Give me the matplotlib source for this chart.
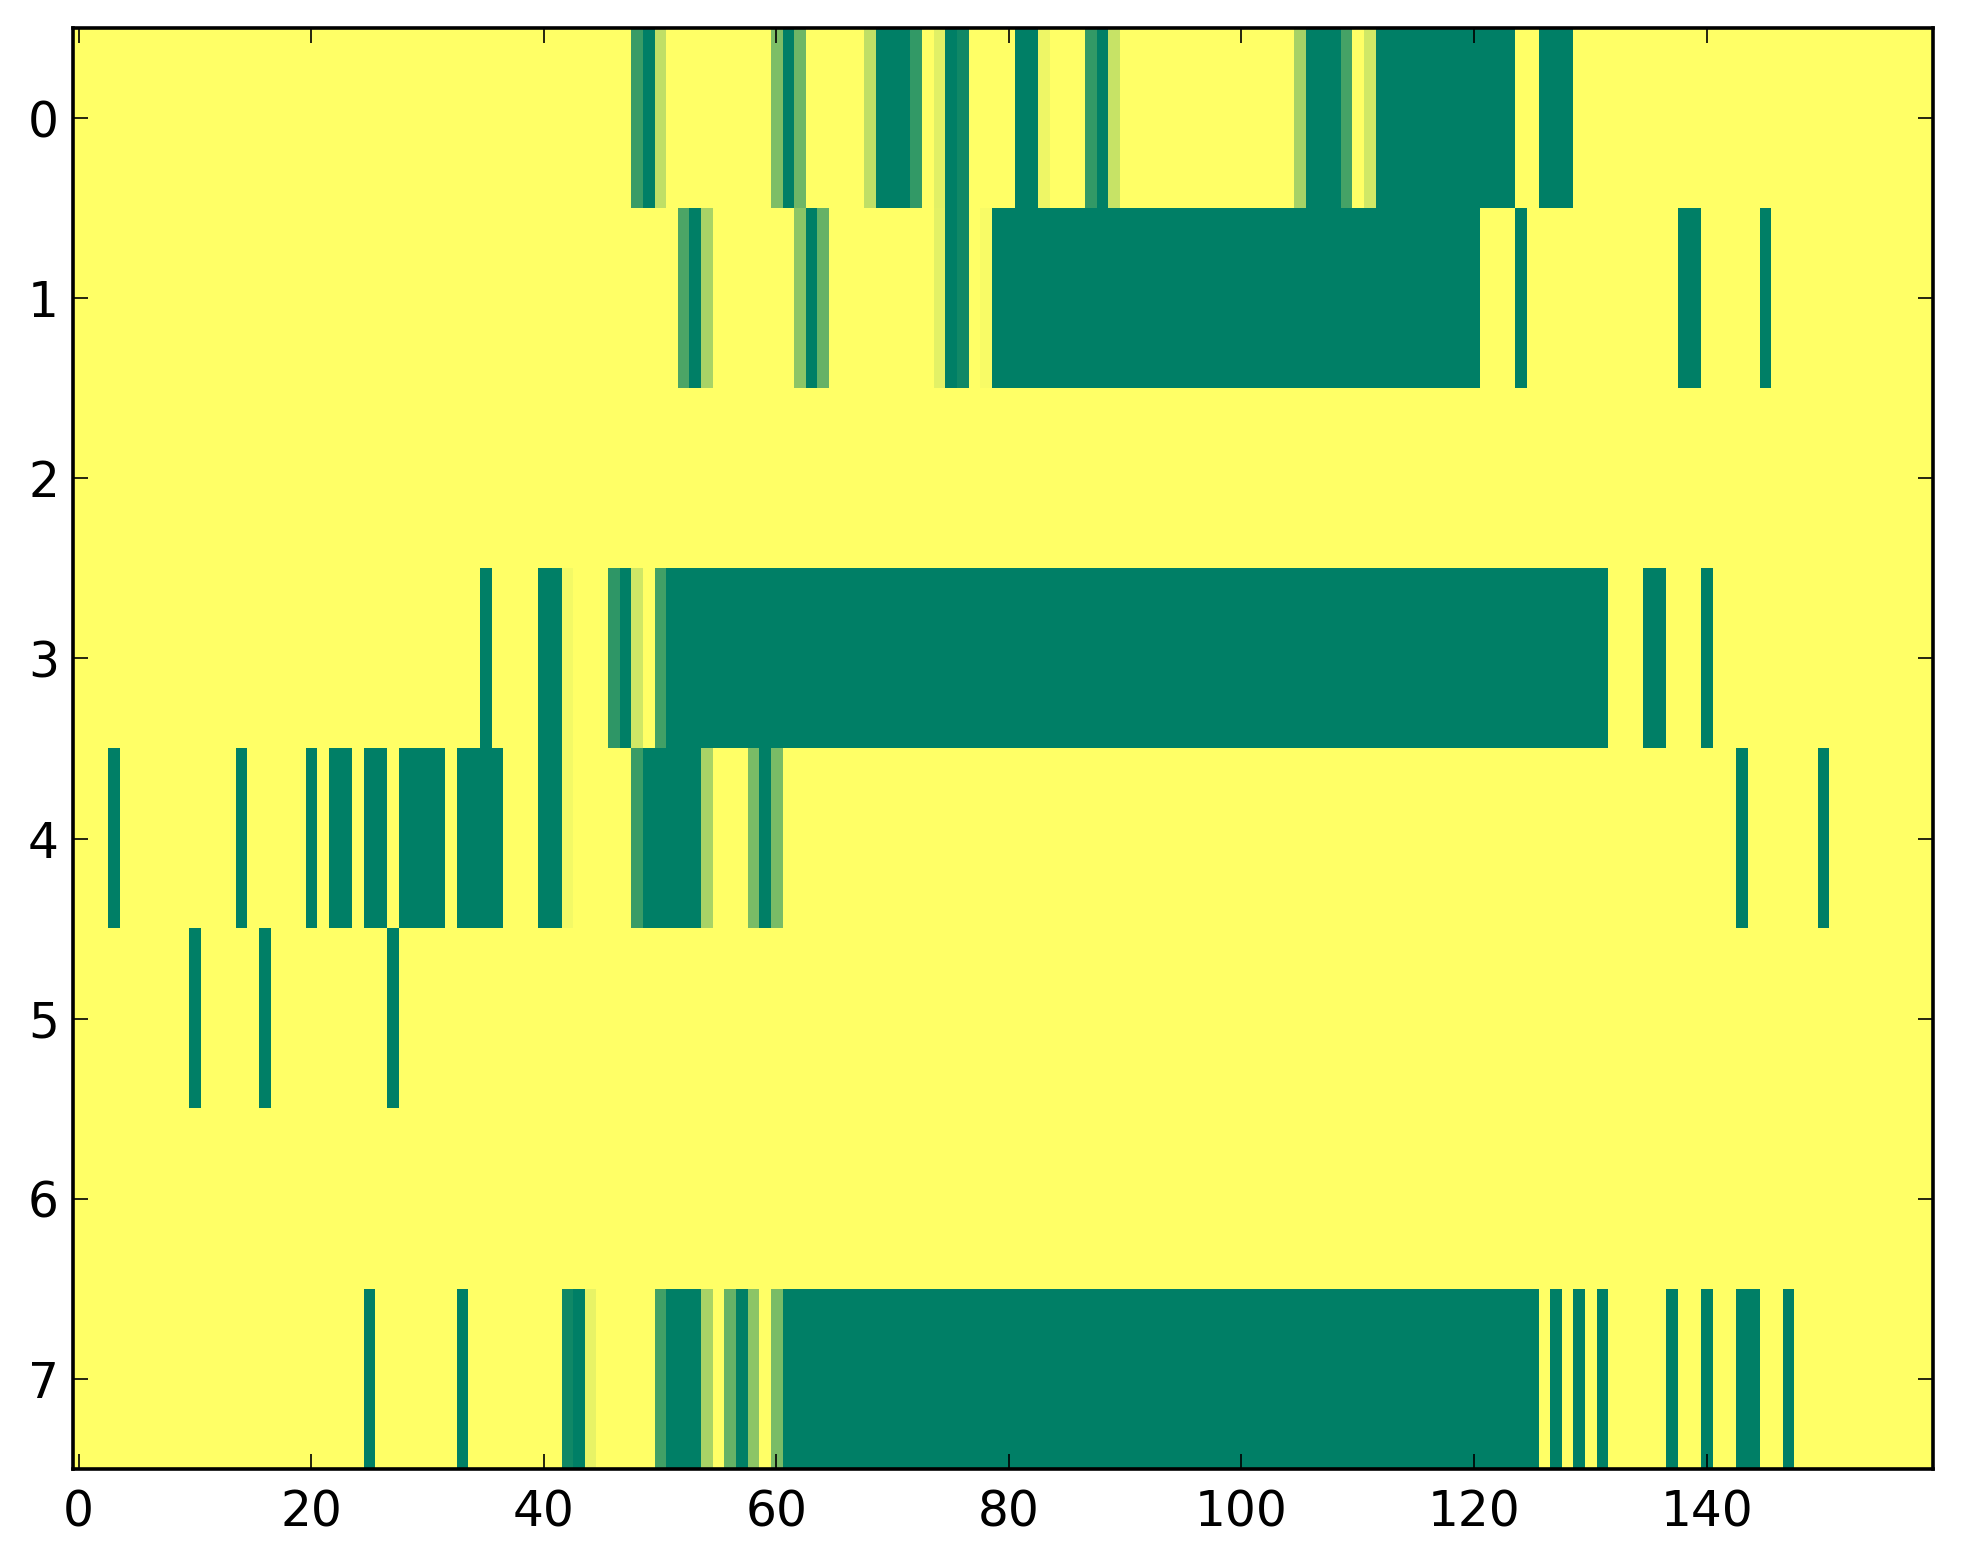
import numpy as np
import matplotlib
matplotlib.use('Agg')
import matplotlib.pyplot as plt

n_rows = 8
n_cols = 160

# columns that are fully "on" (value 1) in each row
row0_full = [49, 61, 69, 70, 71, 75, 81, 82, 88, 106, 107, 108] + list(range(112, 124)) + [126, 127, 128]
row1_full = [53, 63, 75] + list(range(79, 121)) + [124, 138, 139, 145]
row2_full = []
row3_full = [35, 40, 41, 47] + list(range(51, 132)) + [135, 136, 140]
row4_full = [3, 14, 20, 22, 23, 25, 26, 28, 29, 30, 31, 33, 34, 35, 36, 40, 41,
             49, 50, 51, 52, 53, 59, 143, 150]
row5_full = [10, 16, 27]
row6_full = []
row7_full = [25, 33, 43, 51, 52, 53, 57] + list(range(61, 126)) + [127, 129, 131, 137, 140, 143, 144, 147]

# columns with in-between values
row0_part = {48: 0.77, 50: 0.25, 60: 0.51, 62: 0.57, 68: 0.25, 72: 0.8, 74: 0.12,
             76: 0.93, 83: 0.07, 87: 0.8, 89: 0.22, 105: 0.35, 109: 0.73, 111: 0.18}
row1_part = {52: 0.7, 54: 0.34, 62: 0.45, 64: 0.6, 74: 0.11, 76: 0.93, 78: 0.03}
row2_part = {}
row3_part = {42: 0.05, 46: 0.82, 48: 0.19, 50: 0.74}
row4_part = {42: 0.05, 48: 0.77, 54: 0.34, 58: 0.52, 60: 0.52}
row5_part = {}
row6_part = {}
row7_part = {42: 0.93, 44: 0.09, 50: 0.74, 54: 0.34, 56: 0.6, 58: 0.45, 60: 0.52}

full_rows = [row0_full, row1_full, row2_full, row3_full, row4_full, row5_full, row6_full, row7_full]
part_rows = [row0_part, row1_part, row2_part, row3_part, row4_part, row5_part, row6_part, row7_part]

data = np.zeros((n_rows, n_cols))
for r in range(n_rows):
    for c in full_rows[r]:
        data[r, c] = 1.0
    for c, v in part_rows[r].items():
        data[r, c] = v

fig = plt.figure(figsize=(1963 / 200, 1564 / 200), dpi=200)
ax = fig.add_axes([0.0371, 0.0608, 0.9478, 0.9213])
ax.imshow(data, cmap='summer_r', vmin=0, vmax=1, interpolation='nearest', aspect='auto')

ax.set_xticks(range(0, 141, 20))
ax.set_yticks(range(n_rows))
ax.tick_params(direction='in', top=True, right=True, length=5.4, width=0.6,
               labelsize=17.5, pad=7)
ax.tick_params(axis='y', pad=5)
for s in ax.spines.values():
    s.set_linewidth(1.3)

fig.savefig('out.png', dpi=200)
